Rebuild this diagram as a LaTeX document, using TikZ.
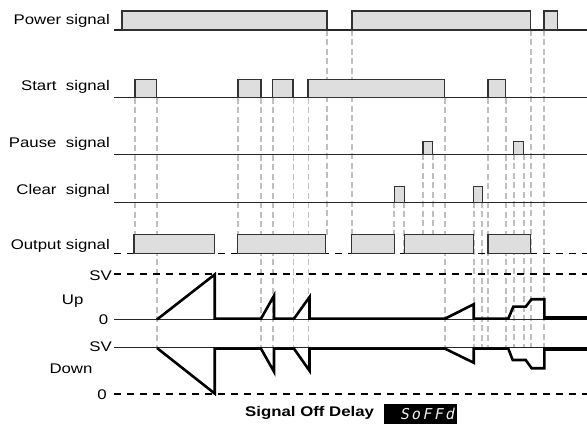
\documentclass[tikz,border=0pt]{standalone}
\usepackage{fontspec}
\setmainfont{Liberation Sans}
\newfontfamily\lblfont[FakeStretch=1.2]{Liberation Sans}
\newfontfamily\segfont[FakeSlant=0.2,LetterSpace=15]{DejaVu Sans Mono}

\tikzset{
  guide/.style={draw=black!25, line width=1.4pt, dash pattern=on 6pt off 3.5pt},
  sigline/.style={draw=black!85, line width=1.1pt},
  sigpulse/.style={draw=black!80, fill=black!13, line width=1.1pt},
  level/.style={draw=black, line width=1.6pt, dash pattern=on 7pt off 6pt},
  thinlevel/.style={draw=black!85, line width=1pt},
  counter/.style={draw=black, line width=2.6pt, line join=miter, line cap=butt},
  countertail/.style={draw=black, line width=4.5pt},
  lbl/.style={font=\lblfont\fontsize{14}{16}\selectfont, anchor=base east, inner sep=0pt},
  lblc/.style={font=\lblfont\fontsize{14}{16}\selectfont, anchor=base, inner sep=0pt}
}
\newcommand\sigpulsebox[4]{\draw[sigpulse] (#1,#3) rectangle (#2,#4);}
\newcommand\guideline[3]{\draw[guide] (#1,#2) -- (#1,#3);}

\begin{document}
\begin{tikzpicture}[x=1pt,y=-1pt]
\useasboundingbox (0,0) rectangle (587,430);

% vertical timing guides
\guideline{135}{98}{235}
\guideline{157}{98}{348}
\guideline{238}{98}{235}
\guideline{261}{98}{348}
\guideline{273}{98}{348}
\guideline{293.5}{98}{348}
\guideline{308.5}{98}{348}
\guideline{327}{30}{235}
\guideline{352}{30}{235}
\guideline{394}{202}{253}
\guideline{404}{202}{253}
\guideline{423}{154}{253}
\guideline{433}{154}{253}
\guideline{445}{98}{348}
\guideline{474}{202}{348}
\guideline{482}{202}{350}
\guideline{488}{98}{350}
\guideline{506}{98}{348}
\guideline{514}{154}{348}
\guideline{524}{154}{348}
\guideline{531}{30}{348}
\guideline{544}{30}{348}

% power signal
\draw[sigline] (114,30) -- (587,30);
\sigpulsebox{122}{327}{11}{30}
\sigpulsebox{352}{530.7}{11}{30}
\sigpulsebox{544}{557.7}{11}{30}

% start signal
\draw[sigline] (114,97.7) -- (587,97.7);
\sigpulsebox{135}{156.7}{79.3}{97.7}
\sigpulsebox{238}{261}{79.3}{97.7}
\sigpulsebox{272.7}{293}{79.3}{97.7}
\sigpulsebox{308}{444.3}{79.3}{97.7}
\sigpulsebox{488}{505.7}{79.3}{97.7}

% pause signal
\draw[sigline] (114,154.3) -- (587,154.3);
\sigpulsebox{423}{432.7}{141.3}{154.3}
\sigpulsebox{513.7}{523.7}{141.3}{154.3}

% clear signal
\draw[sigline] (114,202.3) -- (587,202.3);
\sigpulsebox{394.3}{404.3}{186.3}{202.3}
\sigpulsebox{473.7}{482.3}{186.3}{202.3}

% output signal
\draw[level] (114,253.7) -- (587,253.7);
\sigpulsebox{134}{214.7}{234.7}{253.7}
\sigpulsebox{237.7}{325.7}{234.7}{253.7}
\sigpulsebox{351.7}{394.3}{234.7}{253.7}
\sigpulsebox{404.3}{473.7}{234.7}{253.7}
\sigpulsebox{488}{530.3}{234.7}{253.7}

% counter levels
\draw[level] (114,274.3) -- (587,274.3);
\draw[thinlevel] (114,320) -- (587,320);
\draw[thinlevel] (114,347.7) -- (587,347.7);
\draw[level] (114,394) -- (587,394);

% up counter
\draw[counter] (157,319.5) -- (214.7,274.5) -- (214.7,318.7) -- (261,318.7)
  -- (274,295.7) -- (274,318.7) -- (294,318.7) -- (309.5,297) -- (309.5,318.7)
  -- (445,318.7) -- (473.7,304.3) -- (473.7,318.7) -- (508.3,318.7)
  -- (513.3,306.7) -- (525.7,306.7) -- (531.5,299.3) -- (544.3,299.3) -- (544.3,318.7);
\draw[countertail] (543,318.2) -- (587,318.2);

% down counter
\draw[counter] (157,348) -- (214.7,393.5) -- (214.7,348.7) -- (261,348.7)
  -- (274,371.7) -- (274,348.7) -- (294,348.7) -- (309.5,370.7) -- (309.5,348.7)
  -- (445,348.7) -- (473.7,362.7) -- (473.7,348.7) -- (508.3,348.7)
  -- (512.7,360) -- (525.7,360) -- (531.7,368.3) -- (544.3,368.3) -- (544.3,348.7);
\draw[countertail] (543,349.2) -- (587,349.2);

% labels
\node[lbl] (lpower) at (110,25) {Power signal};
\node[lbl] (lstart) at (110,90.6) {Start\ \ signal};
\node[lbl] (lpause) at (110,147.3) {Pause\ \ signal};
\node[lbl] (lclear) at (110,195) {Clear\ \ signal};
\node[lbl] (loutput) at (110,249.3) {Output signal};
\node[lbl] (lsvup) at (112,280.7) {SV};
\node[lblc] (lup) at (72.7,305) {Up};
\node[lbl] (lzeroup) at (108.5,325) {0};
\node[lbl] (lsvdown) at (112,351.3) {SV};
\node[lblc] (ldown) at (71,373.3) {Down};
\node[lbl] (lzerodown) at (107,400) {0};

% caption
\node[font=\lblfont\bfseries\fontsize{14}{16}\selectfont, anchor=base west, inner sep=0pt]
  (caption) at (245,417) {Signal Off Delay};
\node[fill=black, minimum width=73.4pt, minimum height=20pt, inner sep=0pt, anchor=north west]
  (segbox) at (383.3,404) {};
\node[font=\segfont\fontsize{15}{16}\selectfont, text=black!8, anchor=base, inner sep=0pt]
  (segtext) at (427,419.5) {SoFFd};
\end{tikzpicture}
\end{document}
